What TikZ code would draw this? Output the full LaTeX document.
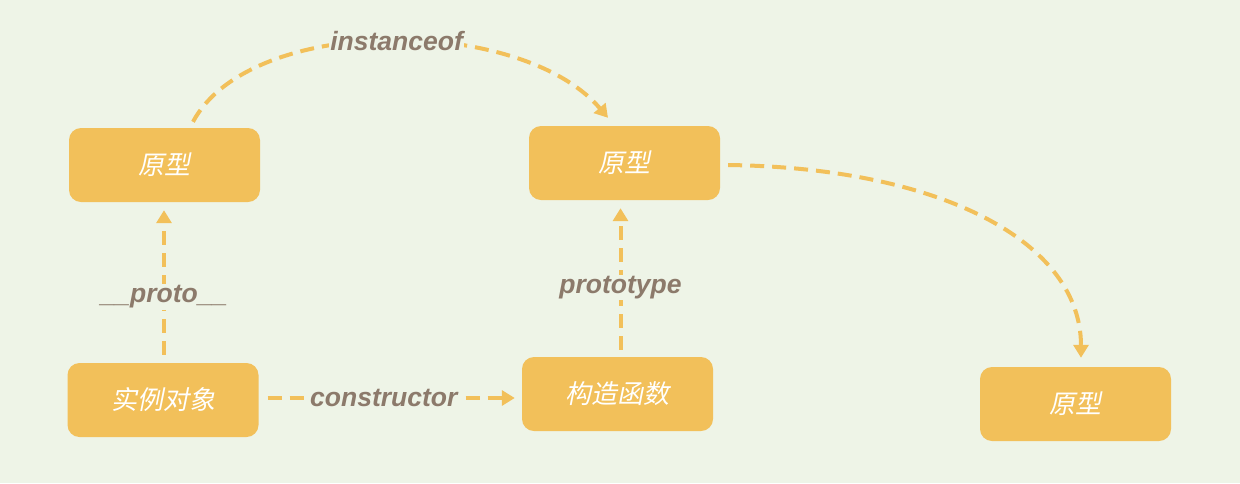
\documentclass[tikz,border=0pt]{standalone}
\usepackage{fontspec}
\setmainfont{Liberation Sans}
\newfontfamily\cjk[FakeSlant=0.2]{Noto Sans CJK SC}
\usetikzlibrary{arrows.meta,calc}
\definecolor{bg}{HTML}{EEF4E7}
\definecolor{boxc}{HTML}{F2C05A}
\definecolor{labc}{HTML}{8C7A6B}
\tikzset{
  box/.style={fill=boxc, rounded corners=12pt, minimum width=191pt, minimum height=74pt,
    inner sep=0pt, text=white, font=\cjk\fontsize{26}{30}\selectfont},
  link/.style={draw=boxc, line width=4pt, dash pattern=on 14pt off 8pt,
    -{Triangle[length=13pt,width=15pt]}},
  lab/.style={fill=bg, inner sep=1.5pt, text=labc, font=\fontsize{26.5}{30}\selectfont\bfseries\itshape}
}
\begin{document}
\begin{tikzpicture}[x=1pt,y=-1pt]
\useasboundingbox (0,0) rectangle (1240,483);
\fill[bg] (0,0) rectangle (1240,483);
\node[box] (A) at (164.5,165) {原型};
\node[box] (B) at (624.5,163) {原型};
\node[box] (C) at (163,400) {实例对象};
\node[box] (D) at (617.5,394) {构造函数};
\node[box] (E) at (1075.5,404) {原型};
% __proto__
\draw[link] ($(C.north)+(1,-8)$) -- ($(C.north |- A.south)+(1,8)$)
  node[lab, pos=0.4] (lp) {\_\_proto\_\_};
% constructor
\draw[link] ($(C.east)+(9,-2)$) -- ($(D.west |- C.east)+(-7,-2)$)
  node[lab, pos=0.47] (lc) {constructor};
% prototype
\draw[link] ($(D.north)+(3,-7)$) -- ($(D.north |- B.south)+(3,8)$)
  node[lab, pos=0.44] (lpt) {prototype};
% instanceof
\draw[link] ($(A.north)+(28.5,-6)$) .. controls +(57,-107) and +(-88,-103) .. ($(B.north)+(-16.5,-8)$)
  node[lab, pos=0.515] (li) {instanceof};
% right curve
\draw[link] ($(B.east)+(8,2)$) .. controls +(215,3) and +(0,-115) .. ($(E.north)+(5.5,-9)$);
\end{tikzpicture}
\end{document}
